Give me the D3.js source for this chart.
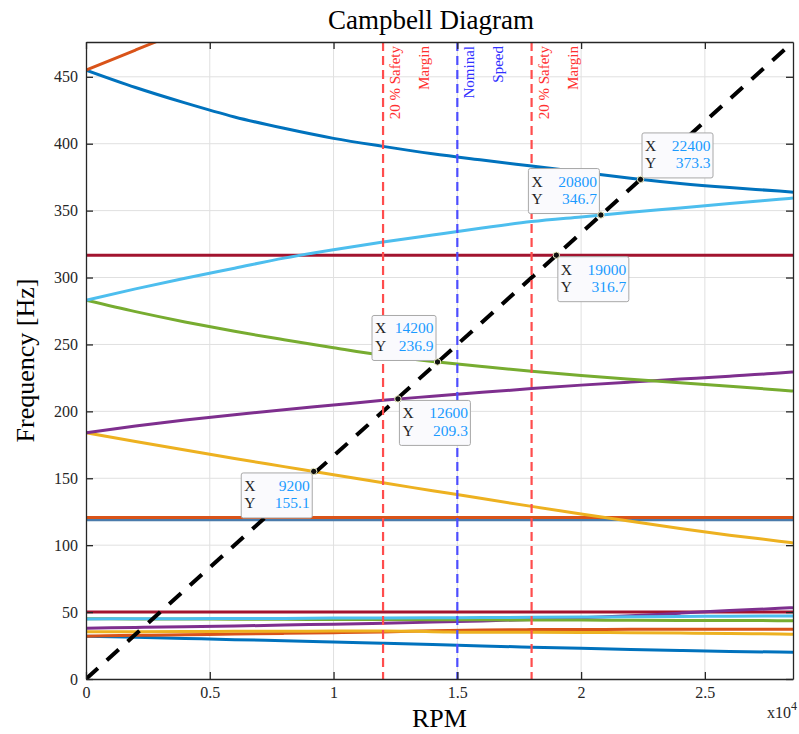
<!DOCTYPE html>
<html>
<head>
<meta charset="utf-8">
<script src="https://cdn.jsdelivr.net/npm/d3@7"></script>
<style>
  html, body { margin: 0; padding: 0; background: #ffffff; }
  svg { display: block; }
  text { font-family: "Liberation Serif", "Times New Roman", serif; }
</style>
</head>
<body>
<svg id="chart" width="799" height="734"></svg>
<script>
// Rotor speed grid [RPM]
const rpm = [0, 2000, 4000, 6000, 8000, 10000, 12000, 14000, 16000, 18000, 20000, 22000, 24000, 26000, 28000, 28560];

// Natural frequencies [Hz] of each whirl mode along the speed grid
const mode1Low  = [32, 31.2, 30.3, 29.4, 28.6, 27.7, 26.7, 25.7, 24.7, 23.8, 22.9, 22.1, 21.3, 20.6, 20.1, 20];
const mode2Low  = [32, 32.6, 33.1, 33.6, 34.1, 34.6, 35.1, 36.1, 36.7, 36.9, 37, 37.1, 37.1, 37.2, 37.2, 37.2];
const mode3Low  = [35.3, 35.4, 35.5, 35.6, 35.7, 35.8, 35.9, 35.4, 34.9, 34.9, 34.8, 34.6, 34.3, 34, 33.6, 33.4];
const mode4Low  = [38, 38.5, 39, 39.6, 40.3, 41, 41.7, 42.5, 43.4, 44.5, 45.7, 47.2, 49.2, 51.1, 52.8, 53.3];
const mode5Low  = [45, 44.9, 44.8, 44.7, 44.6, 44.5, 44.4, 44.3, 44.2, 44.1, 44, 43.9, 43.8, 43.7, 43.6, 43.6];
const mode6Low  = [44.9, 45, 45.1, 45.2, 45.3, 45.5, 45.6, 45.8, 45.9, 46.1, 46.3, 46.5, 46.7, 46.9, 47.1, 47.1];
const bwYellow  = [184, 177.5, 171.1, 164.8, 158.7, 152.6, 146.6, 140.7, 134.8, 129, 123.3, 117.8, 112.5, 107.5, 103, 101.7];
const fwPurple  = [184, 189, 193.5, 197.5, 201.2, 204.7, 208.3, 211.3, 214.2, 217, 219.6, 221.9, 224.1, 226.3, 228.6, 229.4];
const bwGreen   = [283, 274.5, 266.8, 259.8, 253.5, 247.5, 241.8, 237.3, 233.5, 229.9, 226.8, 224, 221.3, 218.7, 216, 215.2];
const fwCyan    = [283, 291.5, 299.5, 307, 314.5, 320.8, 326.5, 331.8, 337, 341.8, 345.3, 348.7, 352, 355.3, 358.5, 359.4];
const bwBlue    = [455, 442, 430.5, 420, 411.5, 404, 398, 392.5, 387.8, 383.3, 378.8, 374.2, 370.3, 367.2, 364.6, 363.8];
const fwOrange  = [455, 470, 485, null, null, null, null, null, null, null, null, null, null, null, null, null];

// Speed-independent modes [Hz]
const flatHz     = [50, 119, 120.7, 316.7];
const flatColors = ["#A2142F", "#4a7bab", "#D95319", "#A2142F"];

// Reference speeds [RPM]
const markRpm    = [12000, 15000, 18000];
const markLabels = [["20 % Safety", "Margin"], ["Nominal", "Speed"], ["20 % Safety", "Margin"]];
const markColors = ["#ff4d4d", "#4d4dff", "#ff4d4d"];
const markText   = ["#ff3030", "#3030ff", "#ff3030"];

// Intersections of the 1X excitation line with the modes
const tipRpm  = [9200, 12600, 14200, 19000, 20800, 22400];
const tipHz   = [155.1, 209.3, 236.9, 316.7, 346.7, 373.3];
const tipSide = ["lowerLeft", "lowerRight", "upperLeft", "lowerRight", "upperLeft", "upperRight"];

const xTicks = [0, 5000, 10000, 15000, 20000, 25000];
const yTicks = [0, 50, 100, 150, 200, 250, 300, 350, 400, 450];

const xMax = 28560, yMax = xMax / 60;

const svg = d3.select("#chart");
const m = { left: 86, top: 42, right: 6, bottom: 55 };
const W = 799 - m.left - m.right, H = 734 - m.top - m.bottom;

const x = d3.scaleLinear().domain([0, xMax]).range([0, W]);
const y = d3.scaleLinear().domain([0, yMax]).range([H, 0]);

const g = svg.append("g").attr("transform", `translate(${m.left},${m.top})`);

svg.append("defs").append("clipPath").attr("id", "plotClip")
  .append("rect").attr("width", W).attr("height", H);

// Grid
const grid = g.append("g").attr("stroke", "#e0e0e0").attr("stroke-width", 1);
grid.selectAll(".gx").data(xTicks.slice(1)).join("line")
  .attr("x1", d => x(d)).attr("x2", d => x(d)).attr("y1", 0).attr("y2", H);
grid.selectAll(".gy").data(yTicks.slice(1)).join("line")
  .attr("y1", d => y(d)).attr("y2", d => y(d)).attr("x1", 0).attr("x2", W);

// Mode curves
const plot = g.append("g").attr("clip-path", "url(#plotClip)");
const line = d3.line()
  .defined(d => d[1] !== null)
  .x(d => x(d[0])).y(d => y(d[1]))
  .curve(d3.curveMonotoneX);

const curves = [
  [mode1Low, "#0072BD"], [mode2Low, "#D95319"], [mode3Low, "#EDB120"],
  [mode4Low, "#7E2F8E"], [mode5Low, "#77AC30"], [mode6Low, "#4DBEEE"],
  [bwYellow, "#EDB120"], [fwPurple, "#7E2F8E"], [bwGreen, "#77AC30"],
  [fwCyan, "#4DBEEE"], [bwBlue, "#0072BD"], [fwOrange, "#D95319"]
];

// flat modes: the 119 Hz line sits under the 120.7 Hz one
flatHz.forEach((v, i) => {
  plot.append("path")
    .attr("d", line([[0, v], [xMax, v]]))
    .attr("fill", "none").attr("stroke", flatColors[i]).attr("stroke-width", 3);
});

curves.forEach(([vals, color]) => {
  plot.append("path")
    .attr("d", line(rpm.map((r, i) => [r, vals[i]])))
    .attr("fill", "none").attr("stroke", color).attr("stroke-width", 3)
    .attr("stroke-linejoin", "round");
});

// Reference speed lines and labels
markRpm.forEach((r, i) => {
  g.append("line")
    .attr("x1", x(r)).attr("x2", x(r)).attr("y1", 0).attr("y2", H)
    .attr("stroke", markColors[i]).attr("stroke-width", 2.2)
    .attr("stroke-dasharray", "9,5");
  markLabels[i].forEach((t, k) => {
    g.append("text")
      .attr("transform", `translate(${x(r) + 17 + k * 29},4) rotate(-90)`)
      .attr("text-anchor", "end")
      .attr("font-size", 15)
      .attr("fill", markText[i])
      .text(t);
  });
});

// 1X excitation line
plot.append("path")
  .attr("d", d3.line().x(d => x(d[0])).y(d => y(d[1]))([[0, 0], [xMax, xMax / 60]]))
  .attr("fill", "none").attr("stroke", "#000").attr("stroke-width", 4)
  .attr("stroke-dasharray", "16,12");

// Axes
const axisColor = "#262626";
const fmtX = d => d / 1e4;
const axB = g.append("g").attr("transform", `translate(0,${H})`)
  .call(d3.axisBottom(x).tickValues(xTicks).tickFormat(fmtX).tickSizeInner(-7).tickSizeOuter(0).tickPadding(8));
const axL = g.append("g")
  .call(d3.axisLeft(y).tickValues(yTicks).tickSizeInner(-7).tickSizeOuter(0).tickPadding(8));
const axT = g.append("g")
  .call(d3.axisTop(x).tickValues(xTicks).tickFormat("").tickSizeInner(-7).tickSizeOuter(0));
const axR = g.append("g").attr("transform", `translate(${W},0)`)
  .call(d3.axisRight(y).tickValues(yTicks).tickFormat("").tickSizeInner(-7).tickSizeOuter(0));
[axB, axL, axT, axR].forEach(a => {
  a.selectAll("path, line").attr("stroke", axisColor).attr("stroke-width", 1.3);
  a.selectAll("text").attr("fill", axisColor).attr("font-size", 16)
    .attr("font-family", "'Liberation Serif', 'Times New Roman', serif");
});

// Data tips
const tipW = 71, tipH = 45;
tipRpm.forEach((r, i) => {
  const px = x(r), py = y(tipHz[i]);
  const side = tipSide[i];
  const w = r === 14200 ? 64 : tipW;
  const bx = side.endsWith("Left") ? px - 1.5 - w : px + 1.5;
  const by = side.startsWith("upper") ? py - 1.5 - tipH : py + 1.5;
  const tg = g.append("g").attr("transform", `translate(${bx},${by})`);
  tg.append("rect").attr("width", w).attr("height", tipH).attr("rx", 2)
    .attr("fill", "#fafafd").attr("stroke", "#a8a8a8").attr("stroke-width", 1);
  [["X", r], ["Y", tipHz[i].toFixed(1)]].forEach(([lab, val], k) => {
    tg.append("text").attr("x", 3).attr("y", 18 + k * 17.5)
      .attr("font-size", 15.5).attr("fill", "#222").text(lab);
    tg.append("text").attr("x", w - 2.5).attr("y", 18 + k * 17.5)
      .attr("text-anchor", "end").attr("font-size", 15.5).attr("fill", "#1a9aff").text(val);
  });
  g.append("circle").attr("cx", px).attr("cy", py).attr("r", 3.2)
    .attr("fill", "#111").attr("stroke", "#f4f4c8").attr("stroke-width", 1);
});

// Title and labels
svg.append("text").attr("x", 431).attr("y", 29)
  .attr("text-anchor", "middle").attr("font-size", 27).attr("fill", "#000")
  .text("Campbell Diagram");
svg.append("text").attr("x", m.left + W / 2).attr("y", 727)
  .attr("text-anchor", "middle").attr("font-size", 26).attr("fill", "#000")
  .text("RPM");
svg.append("text")
  .attr("transform", `translate(34,${m.top + H / 2}) rotate(-90)`)
  .attr("text-anchor", "middle").attr("font-size", 26).attr("fill", "#000")
  .text("Frequency [Hz]");

const expo = svg.append("text").attr("x", 797).attr("y", 718)
  .attr("text-anchor", "end").attr("font-size", 16).attr("fill", axisColor);
expo.append("tspan").text("x10");
expo.append("tspan").attr("dy", -8).attr("font-size", 12).text("4");
</script>
</body>
</html>
